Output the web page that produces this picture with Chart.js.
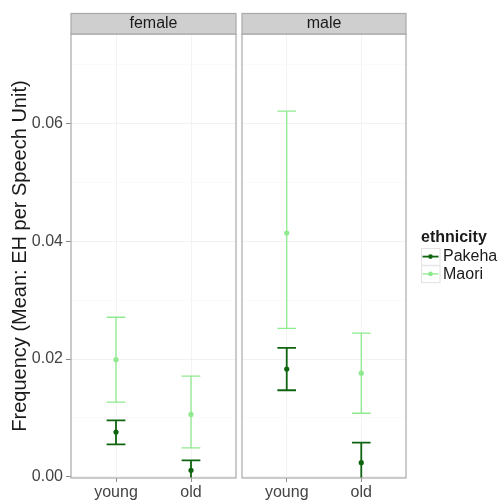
<!DOCTYPE html>
<html>
<head>
<meta charset="utf-8">
<script src="https://cdn.jsdelivr.net/npm/chart.js@4.4.0/dist/chart.umd.min.js"></script>
<style>
  html, body { margin: 0; padding: 0; background: #fff; }
  #wrap { position: relative; width: 502px; height: 502px; }
  canvas { position: absolute; top: 0; }
</style>
</head>
<body>
<div id="wrap">
  <canvas id="female" width="240" height="502" style="left:0"></canvas>
  <canvas id="male" width="264" height="502" style="left:238px"></canvas>
</div>
<script>
const ageGroups = ['young', 'old'];
const agePositions = [1, 2];
const ethnicities = ['Pakeha', 'Maori'];
const ethnicityColors = ['#0f640f', '#8fea8f'];
const gridValues = [0, 0.01, 0.02, 0.03, 0.04, 0.05, 0.06, 0.07];
const yMin = -0.0002;
const yMax = 0.0752;

// female panel: mean, lower and upper ends of the error bars
const femalePakehaMean = [0.0076, 0.0011];
const femalePakehaLow = [0.0055, -0.0006];
const femalePakehaHigh = [0.0096, 0.0028];
const femaleMaoriMean = [0.0199, 0.0106];
const femaleMaoriLow = [0.0127, 0.0049];
const femaleMaoriHigh = [0.0271, 0.0171];

// male panel
const malePakehaMean = [0.0183, 0.0024];
const malePakehaLow = [0.0147, -0.0010];
const malePakehaHigh = [0.0219, 0.0058];
const maleMaoriMean = [0.0414, 0.0176];
const maleMaoriLow = [0.0252, 0.0108];
const maleMaoriHigh = [0.0621, 0.0244];

const FONT = '"Liberation Sans", Arial, Helvetica, sans-serif';
const capHalf = 0.125;
const barWidths = [1.8, 1.3];

const isMajor = v => Math.round(v * 100) % 2 === 0;

const facetPlugin = {
  id: 'facet',
  beforeDatasetsDraw(chart, args, opts) {
    const { ctx, chartArea: a, scales: { x, y } } = chart;
    ctx.save();
    ctx.beginPath();
    ctx.rect(a.left, a.top, a.right - a.left, a.bottom - a.top);
    ctx.clip();
    opts.bars.forEach((b, i) => {
      ctx.strokeStyle = ethnicityColors[i];
      ctx.lineWidth = barWidths[i];
      b.low.forEach((lo, j) => {
        const px = x.getPixelForValue(agePositions[j]);
        const l = x.getPixelForValue(agePositions[j] - capHalf);
        const r = x.getPixelForValue(agePositions[j] + capHalf);
        const yl = y.getPixelForValue(lo);
        const yh = y.getPixelForValue(b.high[j]);
        ctx.beginPath();
        ctx.moveTo(px, yl); ctx.lineTo(px, yh);
        ctx.moveTo(l, yl); ctx.lineTo(r, yl);
        ctx.moveTo(l, yh); ctx.lineTo(r, yh);
        ctx.stroke();
      });
    });
    ctx.restore();
  },
  afterDraw(chart, args, opts) {
    const { ctx, chartArea: a } = chart;
    ctx.save();
    // panel border
    ctx.strokeStyle = '#a9a9a9';
    ctx.lineWidth = 1.2;
    ctx.strokeRect(a.left, a.top, a.right - a.left, a.bottom - a.top);
    // strip
    ctx.fillStyle = '#cfcfcf';
    ctx.fillRect(a.left, 13.5, a.right - a.left, a.top - 13.5);
    ctx.strokeRect(a.left, 13.5, a.right - a.left, a.top - 13.5);
    ctx.fillStyle = '#1a1a1a';
    ctx.font = '16px ' + FONT;
    ctx.textAlign = 'center';
    ctx.textBaseline = 'middle';
    ctx.fillText(opts.label, (a.left + a.right) / 2, 24);

    if (opts.legendX != null) {
      const lx = opts.legendX;
      ctx.textAlign = 'left';
      ctx.textBaseline = 'alphabetic';
      ctx.font = 'bold 16px ' + FONT;
      ctx.fillText('ethnicity', lx, 242);
      ethnicities.forEach((name, i) => {
        const top = 248 + i * 17.3;
        ctx.fillStyle = '#fff';
        ctx.fillRect(lx, top, 19, 17.3);
        ctx.strokeStyle = '#e2e2e2';
        ctx.lineWidth = 1;
        ctx.strokeRect(lx + 0.5, top + 0.5, 18.5, 16.8);
        ctx.strokeStyle = ethnicityColors[i];
        ctx.lineWidth = barWidths[i];
        ctx.beginPath();
        ctx.moveTo(lx + 1.5, top + 8.6);
        ctx.lineTo(lx + 17.5, top + 8.6);
        ctx.stroke();
        ctx.fillStyle = ethnicityColors[i];
        ctx.beginPath();
        ctx.arc(lx + 9.5, top + 8.6, 2.3, 0, Math.PI * 2);
        ctx.fill();
        ctx.fillStyle = '#1a1a1a';
        ctx.font = '16px ' + FONT;
        ctx.textBaseline = 'middle';
        ctx.fillText(name, lx + 22, top + 9);
      });
    }
    ctx.restore();
  }
};

function panelDatasets(means) {
  return means.map((m, i) => ({
    label: ethnicities[i],
    data: m.map((v, j) => ({ x: agePositions[j], y: v })),
    showLine: false,
    pointRadius: 2.6,
    pointBorderWidth: 0,
    pointBackgroundColor: ethnicityColors[i],
    borderColor: ethnicityColors[i]
  }));
}

function makePanel(id, label, means, bars, showY, padding, legendX) {
  return new Chart(document.getElementById(id), {
    type: 'scatter',
    data: { datasets: panelDatasets(means) },
    options: {
      responsive: false,
      animation: false,
      devicePixelRatio: 1,
      layout: { padding: padding },
      scales: {
        x: {
          type: 'linear',
          min: 0.4,
          max: 2.6,
          afterBuildTicks: s => { s.ticks = agePositions.map(v => ({ value: v })); },
          afterFit: s => { s.height = 24; },
          grid: { color: '#f3f3f3', tickColor: '#8c8c8c', tickLength: 4 },
          border: { display: false },
          ticks: {
            callback: (v, i) => ageGroups[i],
            color: '#444',
            font: { family: FONT, size: 16 },
            padding: 1,
            maxRotation: 0,
            autoSkip: false
          }
        },
        y: {
          type: 'linear',
          min: yMin,
          max: yMax,
          afterBuildTicks: s => { s.ticks = gridValues.map(v => ({ value: v })); },
          afterFit: s => { s.width = showY ? 71 : 0; },
          grid: {
            color: c => isMajor(c.tick.value) ? '#f2f2f2' : '#fafafa',
            tickColor: c => isMajor(c.tick.value) ? '#8c8c8c' : 'rgba(0,0,0,0)',
            tickLength: 5,
            drawTicks: showY
          },
          border: { display: false },
          ticks: {
            display: showY,
            callback: v => isMajor(v) ? v.toFixed(2) : '',
            color: '#444',
            font: { family: FONT, size: 16 },
            padding: 3
          },
          title: {
            display: showY,
            text: 'Frequency (Mean: EH per Speech Unit)',
            color: '#1a1a1a',
            font: { family: FONT, size: 20 },
            padding: { top: 8, bottom: 0 }
          }
        }
      },
      plugins: {
        legend: { display: false },
        tooltip: { enabled: false },
        facet: { label: label, bars: bars, legendX: legendX }
      }
    },
    plugins: [facetPlugin]
  });
}

makePanel('female', 'female',
  [femalePakehaMean, femaleMaoriMean],
  [{ low: femalePakehaLow, high: femalePakehaHigh }, { low: femaleMaoriLow, high: femaleMaoriHigh }],
  true, { left: 0, top: 34, right: 3, bottom: 0 }, null);

makePanel('male', 'male',
  [malePakehaMean, maleMaoriMean],
  [{ low: malePakehaLow, high: malePakehaHigh }, { low: maleMaoriLow, high: maleMaoriHigh }],
  false, { left: 1, top: 34, right: 96, bottom: 0 }, 183);
</script>
</body>
</html>
